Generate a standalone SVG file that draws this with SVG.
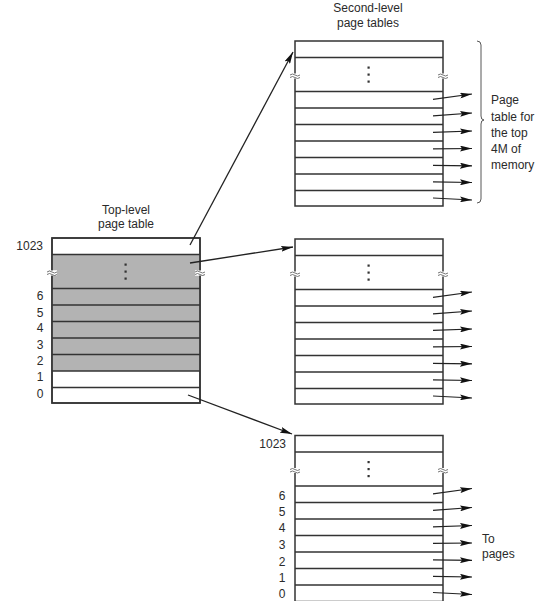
<svg xmlns="http://www.w3.org/2000/svg" width="550" height="601" viewBox="0 0 550 601">
<defs>
<style>
text{font-family:"Liberation Sans",Arial,sans-serif;font-size:12px;fill:#2a2a2a}
.lbl{text-anchor:end}
.num{text-anchor:middle}
.box{fill:#fff;stroke:#333;stroke-width:1.5}
.gray{fill:#b3b3b3;stroke:none}
.row{stroke:#333;stroke-width:1.5}
.dot{fill:#333}
.sq{fill:none;stroke:#666;stroke-width:0.9}
.con{stroke:#222;stroke-width:1.3;fill:none}
.out{stroke:#222;stroke-width:1.2;fill:none}
</style>
<marker id="ah" viewBox="0 0 12 6" refX="12" refY="3" markerWidth="12" markerHeight="6" markerUnits="userSpaceOnUse" orient="auto">
<path d="M0,0 L12,3 L0,6 L2,3 z" fill="#111"/>
</marker>
<g id="rows">
<line class="row" x1="0" y1="16.5" x2="148" y2="16.5"/>
<line class="row" x1="0" y1="50.5" x2="148" y2="50.5"/>
<line class="row" x1="0" y1="67" x2="148" y2="67"/>
<line class="row" x1="0" y1="83.5" x2="148" y2="83.5"/>
<line class="row" x1="0" y1="100" x2="148" y2="100"/>
<line class="row" x1="0" y1="116.5" x2="148" y2="116.5"/>
<line class="row" x1="0" y1="133" x2="148" y2="133"/>
<line class="row" x1="0" y1="149.5" x2="148" y2="149.5"/>
<rect x="72.5" y="25.5" width="2.2" height="2.2" class="dot"/>
<rect x="72.5" y="32.5" width="2.2" height="2.2" class="dot"/>
<rect x="72.5" y="39.5" width="2.2" height="2.2" class="dot"/>
<rect x="-5" y="32.5" width="10" height="5" fill="#fff"/>
<rect x="143" y="32.5" width="10" height="5" fill="#fff"/>
<path class="sq" d="M-5,34 q2.5,-2 5,0 t5,0 M-5,36.5 q2.5,-2 5,0 t5,0 M143,34 q2.5,-2 5,0 t5,0 M143,36.5 q2.5,-2 5,0 t5,0"/>
</g>
<g id="outs">
<line class="out" x1="138" y1="58.3" x2="177" y2="53" marker-end="url(#ah)"/>
<line class="out" x1="138" y1="74.8" x2="177" y2="72" marker-end="url(#ah)"/>
<line class="out" x1="138" y1="91.3" x2="177" y2="90" marker-end="url(#ah)"/>
<line class="out" x1="138" y1="107.8" x2="177" y2="107.5" marker-end="url(#ah)"/>
<line class="out" x1="138" y1="124.3" x2="177" y2="124.8" marker-end="url(#ah)"/>
<line class="out" x1="138" y1="140.8" x2="177" y2="141.5" marker-end="url(#ah)"/>
<line class="out" x1="138" y1="157" x2="177" y2="159" marker-end="url(#ah)"/>
</g>
</defs>

<g id="top-level-table">
<text class="num" x="126" y="214">Top-level</text>
<text class="num" x="126" y="228">page table</text>
<rect class="box" x="52" y="238" width="148" height="165"/>
<rect class="gray" x="52.7" y="254.5" width="146.6" height="116.5"/>
<use href="#rows" x="52" y="238"/>
<rect x="52" y="238" width="148" height="165" fill="none" stroke="#333" stroke-width="1.5"/>
<rect x="47" y="270.5" width="10" height="5" fill="#fff"/>
<rect x="195" y="270.5" width="10" height="5" fill="#fff"/>
<path class="sq" d="M47,272 q2.5,-2 5,0 t5,0 M47,274.5 q2.5,-2 5,0 t5,0 M195,272 q2.5,-2 5,0 t5,0 M195,274.5 q2.5,-2 5,0 t5,0"/>
<text class="lbl" x="43" y="250">1023</text>
<text class="num" x="40" y="300">6</text>
<text class="num" x="40" y="316.5">5</text>
<text class="num" x="40" y="332">4</text>
<text class="num" x="40" y="348.5">3</text>
<text class="num" x="40" y="365">2</text>
<text class="num" x="40" y="381">1</text>
<text class="num" x="40" y="397.5">0</text>
</g>

<g id="second-level-table-top">
<text class="num" x="368" y="12">Second-level</text>
<text class="num" x="368" y="27">page tables</text>
<rect class="box" x="295" y="41" width="148" height="165"/>
<use href="#rows" x="295" y="41"/>
<use href="#outs" x="295" y="41"/>
<path d="M477,41 q4,0 4,4 L481,116 q0,4 3,4 q-3,0 -3,4 L481,199 q0,4 -4,4" fill="none" stroke="#444" stroke-width="0.9"/>
<text x="491" y="104">Page</text>
<text x="491" y="121">table for</text>
<text x="491" y="137">the top</text>
<text x="491" y="153">4M of</text>
<text x="491" y="169">memory</text>
</g>

<g id="second-level-table-middle">
<rect class="box" x="295" y="239" width="148" height="165"/>
<use href="#rows" x="295" y="239"/>
<use href="#outs" x="295" y="239"/>
</g>

<g id="second-level-table-bottom">
<rect class="box" x="295" y="435.5" width="148" height="166"/>
<use href="#rows" x="295" y="435.5"/>
<use href="#outs" x="295" y="435.5"/>
<text class="lbl" x="286" y="448">1023</text>
<text class="num" x="282" y="500">6</text>
<text class="num" x="282" y="516">5</text>
<text class="num" x="282" y="532">4</text>
<text class="num" x="282" y="549">3</text>
<text class="num" x="282" y="566">2</text>
<text class="num" x="282" y="582">1</text>
<text class="num" x="282" y="598">0</text>
<text x="482" y="543">To</text>
<text x="482" y="558">pages</text>
</g>

<g id="connectors">
<line class="con" x1="190" y1="245" x2="293" y2="52" marker-end="url(#ah)"/>
<line class="con" x1="190" y1="263" x2="293" y2="247" marker-end="url(#ah)"/>
<line class="con" x1="188" y1="395" x2="292" y2="434" marker-end="url(#ah)"/>
</g>
</svg>
